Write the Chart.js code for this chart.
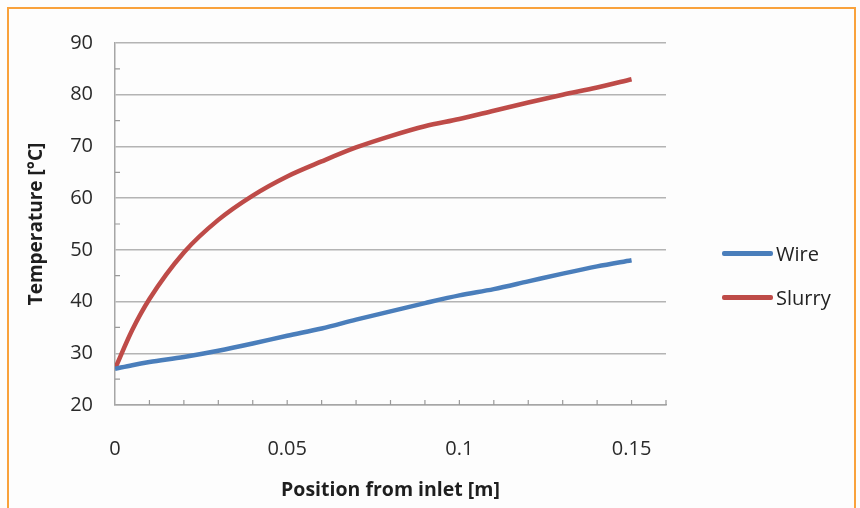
<!DOCTYPE html>
<html>
<head>
<meta charset="utf-8">
<script src="https://cdn.jsdelivr.net/npm/chart.js@4"></script>
<style>
  html, body { margin: 0; padding: 0; background: #fff; }
  #wrap { position: relative; width: 860px; height: 508px; overflow: hidden; background: #fdfdfd; }
  #frame { position: absolute; left: 7px; top: 7px; width: 845px; height: 540px; border: 2px solid #f9a23c; }
  #chartBox { position: absolute; left: 0; top: 0; width: 860px; height: 508px; }
  .leg { position: absolute; left: 722px; font: 20px "Open Sans", sans-serif; color: #222; display: flex; align-items: center; }
  .leg span.ln { display: inline-block; width: 51px; height: 5px; margin-right: 3px; border-radius: 2px; }
</style>
</head>
<body>
<div id="wrap">
  <div id="frame"></div>
  <div id="chartBox"><canvas id="tempChart" width="860" height="508"></canvas></div>
  <div id="legend"></div>
</div>
<script>
const positions = [0, 0.005, 0.01, 0.02, 0.03, 0.04, 0.05, 0.06, 0.07, 0.08, 0.09, 0.1, 0.11, 0.12, 0.13, 0.14, 0.15];
const wireTemps = [27, 27.7, 28.3, 29.3, 30.5, 31.9, 33.4, 34.8, 36.5, 38.1, 39.7, 41.2, 42.4, 43.9, 45.4, 46.8, 48];
const slurryTemps = [27, 34.5, 40.5, 49.5, 55.8, 60.5, 64.2, 67.1, 69.8, 72, 73.9, 75.3, 76.9, 78.5, 80, 81.4, 83];
const xLabels = [0, 0.05, 0.1, 0.15];

const seriesNames = ["Wire", "Slurry"];
const seriesColors = ["#4a7ebb", "#be4b48"];

const toPoints = (vals) => positions.map((x, i) => ({ x, y: vals[i] }));

// small inward tick marks, like the excel original
const minorTicks = {
  id: "minorTicks",
  beforeDatasetsDraw(chart) {
    const { ctx, scales: { x, y } } = chart;
    ctx.save();
    ctx.strokeStyle = "#9a9a9a";
    ctx.lineWidth = 1.2;
    ctx.beginPath();
    for (let i = 1; i <= 16; i++) {
      const px = x.getPixelForValue(i / 100);
      ctx.moveTo(px, y.bottom);
      ctx.lineTo(px, y.bottom - 5);
    }
    for (let v = 25; v < 90; v += 10) {
      const py = y.getPixelForValue(v);
      ctx.moveTo(x.left, py);
      ctx.lineTo(x.left + 5, py);
    }
    ctx.stroke();
    ctx.restore();
  },
};

new Chart(document.getElementById("tempChart").getContext("2d"), {
  type: "scatter",
  data: {
    datasets: [
      {
        label: seriesNames[0],
        data: toPoints(wireTemps),
        borderColor: seriesColors[0],
        backgroundColor: seriesColors[0],
        showLine: true,
        borderWidth: 4.5,
        pointRadius: 0,
        cubicInterpolationMode: "monotone",
      },
      {
        label: seriesNames[1],
        data: toPoints(slurryTemps),
        borderColor: seriesColors[1],
        backgroundColor: seriesColors[1],
        showLine: true,
        borderWidth: 4.5,
        pointRadius: 0,
        cubicInterpolationMode: "monotone",
      },
    ],
  },
  options: {
    responsive: false,
    animation: false,
    layout: { padding: { top: 43, right: 194, left: 0, bottom: 0 } },
    plugins: { legend: { display: false }, tooltip: { enabled: false } },
    scales: {
      x: {
        type: "linear",
        min: 0,
        max: 0.16,
        afterFit: (scale) => { scale.height = 103; },
        afterBuildTicks: (scale) => {
          scale.ticks = xLabels.map((v) => ({ value: v }));
        },
        ticks: {
          autoSkip: false,
          maxRotation: 0,
          padding: 24,
          color: "#2a2a2a",
          font: { family: "Open Sans", size: 20 },
          callback: (v) => String(+v.toFixed(2)),
        },
        grid: { display: false },
        border: { display: true, color: "#a6a6a6", width: 1.5 },
        title: {
          display: true,
          text: "Position from inlet [m]",
          color: "#1e1e1e",
          font: { family: "Open Sans", size: 19.5, weight: "bold" },
          padding: { top: 0, bottom: 6 },
        },
      },
      y: {
        min: 20,
        max: 90,
        afterFit: (scale) => { scale.width = 115; },
        ticks: {
          stepSize: 10,
          padding: 22,
          color: "#2a2a2a",
          font: { family: "Open Sans", size: 20 },
        },
        grid: { color: "#b4b4b4", lineWidth: 1.5, drawTicks: false },
        border: { display: true, color: "#a6a6a6", width: 1.5 },
        title: {
          display: true,
          text: "Temperature [°C]",
          color: "#1e1e1e",
          font: { family: "Open Sans", size: 19, weight: "bold" },
          padding: { top: 25, bottom: 0 },
        },
      },
    },
  },
  plugins: [minorTicks],
});

// legend built from the series names/colours
const legend = document.getElementById("legend");
const legendTops = [240, 284];
seriesNames.forEach((name, i) => {
  const item = document.createElement("div");
  item.className = "leg";
  item.style.top = legendTops[i] + "px";
  item.innerHTML = `<span class="ln" style="background:${seriesColors[i]}"></span>${name}`;
  legend.appendChild(item);
});
</script>
</body>
</html>
